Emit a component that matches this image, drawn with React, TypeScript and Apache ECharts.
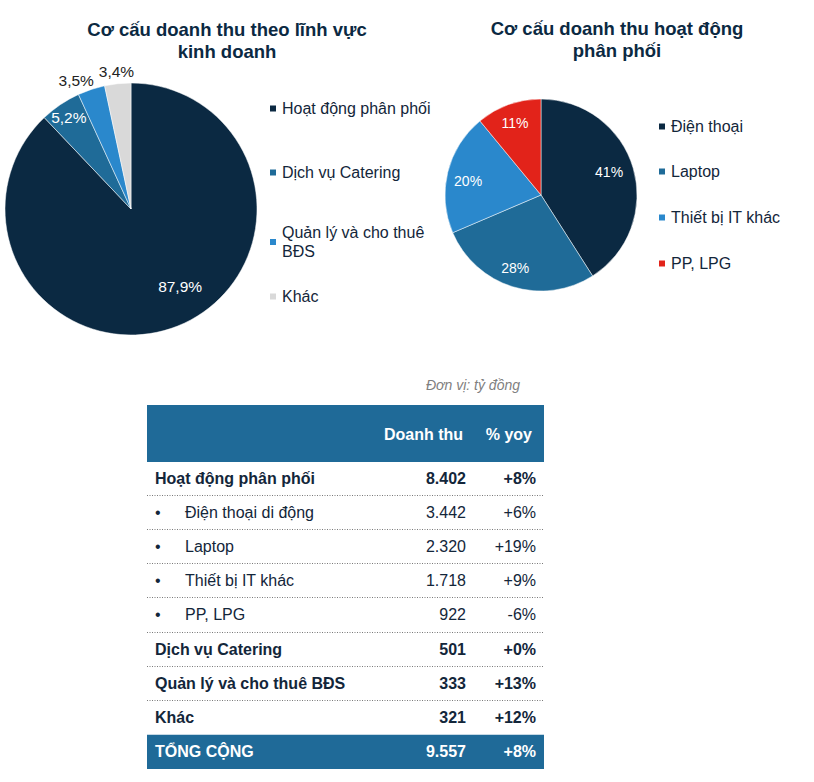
import React, { useEffect, useRef } from "react";
import * as echarts from "echarts";

// ---- Data ----
const tableLabels = [
  "Hoạt động phân phối",
  "Điện thoại di động",
  "Laptop",
  "Thiết bị IT khác",
  "PP, LPG",
  "Dịch vụ Catering",
  "Quản lý và cho thuê BĐS",
  "Khác",
];
const tableRevenue = [8402, 3442, 2320, 1718, 922, 501, 333, 321];
const tableYoy = ["+8%", "+6%", "+19%", "+9%", "-6%", "+0%", "+13%", "+12%"];
const rowIsSub = [false, true, true, true, true, false, false, false];
const totalLabel = "TỔNG CỘNG";
const totalRevenue = 9557;
const totalYoy = "+8%";
const headerCols = ["Doanh thu", "% yoy"];
const unitText = "Đơn vị: tỷ đồng";

const pie1Title = "Cơ cấu doanh thu theo lĩnh vực\nkinh doanh";
const pie1Names = ["Hoạt động phân phối", "Dịch vụ Catering", "Quản lý và cho thuê BĐS", "Khác"];
const pie1Values = [8402, 501, 333, 321];

const pie2Title = "Cơ cấu doanh thu hoạt động\nphân phối";
const pie2Names = ["Điện thoại", "Laptop", "Thiết bị IT khác", "PP, LPG"];
const pie2Values = [3442, 2320, 1718, 922];

// ---- Styles ----
const FONT = '"Liberation Sans", Arial, sans-serif';
const NAVY = "#0b2942";
const TEXT = "#13263a";
const pie1Colors = ["#0b2942", "#1f6b98", "#2a88cc", "#d9d9d9"];
const pie2Colors = ["#0b2942", "#1f6b98", "#2a88cc", "#e2231a"];
const pie1LabelColors = ["#ffffff", "#ffffff", "#222222", "#222222"];
const pie1LabelRadius = [92, 111, 139, 138];
const pie1LabelShift = [[15, -8], [0, 0], [-11, 3], [0, 0]];
const pie2LabelRadius = [73, 77, 74, 77];
const pie2LabelShift = [[-2, -3], [-3, -1], [-1, 4], [0, 0]];
const C1 = [131, 209];
const R1 = 126;
const C2 = [541, 195];
const R2 = 96;
const legend1Pos = [109, 173, 243, 297];
const legend2Pos = [127, 172, 218, 264];
const HEADER_BLUE = "#1f6a98";

const fmtNum = (n: number) => String(n).replace(/\B(?=(\d{3})+(?!\d))/g, ".");

function makeLabelLayout(center: number[], radii: number[], shifts: number[][]) {
  return (p: any) => {
    const r = p.labelRect;
    const lx = r.x + r.width / 2;
    const ly = r.y + r.height / 2;
    const vx = lx - center[0];
    const vy = ly - center[1];
    const d = Math.hypot(vx, vy) || 1;
    const k = radii[p.dataIndex] / d - 1;
    const s = shifts[p.dataIndex];
    return { dx: vx * k + s[0], dy: vy * k + s[1] };
  };
}

function buildTable() {
  const L = 147;
  const Rr = 544;
  const headTop = 405;
  const headBottom = 462;
  const rowH = 34.1;
  const colRev = 466;
  const colYoy = 536;
  const els: any[] = [];
  const txt = (text: string, x: number, y: number, align: string, font: string, fill: string) => ({
    type: "text",
    silent: true,
    style: {
      text,
      x,
      y,
      align,
      textAlign: align,
      verticalAlign: "middle",
      textVerticalAlign: "middle",
      font,
      fill,
    },
  });
  els.push(txt(unitText, 520, 385, "right", `italic 14px ${FONT}`, "#7f7f7f"));
  els.push({
    type: "rect",
    silent: true,
    shape: { x: L, y: headTop, width: Rr - L, height: headBottom - headTop },
    style: { fill: HEADER_BLUE },
  });
  els.push(txt(headerCols[0], 463, 434, "right", `bold 16px ${FONT}`, "#ffffff"));
  els.push(txt(headerCols[1], 532, 434, "right", `bold 16px ${FONT}`, "#ffffff"));
  tableLabels.forEach((lab, i) => {
    const cy = headBottom + rowH * (i + 0.5) - 0.5;
    const sub = rowIsSub[i];
    const font = sub ? `16px ${FONT}` : `bold 16px ${FONT}`;
    if (sub) {
      els.push(txt("•", 155, cy, "left", font, TEXT));
      els.push(txt(lab, 185, cy, "left", font, TEXT));
    } else {
      els.push(txt(lab, 155, cy, "left", font, TEXT));
    }
    els.push(txt(fmtNum(tableRevenue[i]), colRev, cy, "right", font, TEXT));
    els.push(txt(tableYoy[i], colYoy, cy, "right", font, TEXT));
    if (i < tableLabels.length - 1) {
      const ly = Math.round(headBottom + rowH * (i + 1)) - 0.5;
      els.push({
        type: "line",
        silent: true,
        shape: { x1: L, y1: ly, x2: Rr, y2: ly },
        style: { stroke: "#7a7a7a", lineWidth: 1, lineDash: [1, 1.5] },
      });
    }
  });
  const totTop = headBottom + rowH * tableLabels.length;
  els.push({
    type: "rect",
    silent: true,
    shape: { x: L, y: totTop, width: Rr - L, height: rowH },
    style: { fill: HEADER_BLUE },
  });
  const tcy = totTop + rowH / 2;
  els.push(txt(totalLabel, 155, tcy, "left", `bold 16px ${FONT}`, "#ffffff"));
  els.push(txt(fmtNum(totalRevenue), colRev, tcy, "right", `bold 16px ${FONT}`, "#ffffff"));
  els.push(txt(totalYoy, colYoy, tcy, "right", `bold 16px ${FONT}`, "#ffffff"));
  return els;
}

function makeLegends(names: string[], colors: string[], left: number, centers: number[], fmt?: (n: string) => string) {
  return names.map((name, i) => {
    const lines = fmt ? fmt(name).split("\n").length : 1;
    const h = 16 * lines + (lines - 1) * 4;
    return {
      show: true,
      orient: "vertical",
      left,
      top: centers[i] - h / 2 - 2,
      padding: 0,
      itemWidth: 8,
      itemHeight: 8,
      icon: "rect",
      selectedMode: false,
      data: [{ name, itemStyle: { color: colors[i] } }],
      formatter: fmt,
      textStyle: { fontFamily: FONT, fontSize: 16, color: TEXT, lineHeight: 19 },
    };
  });
}

export default function App() {
  const ref = useRef<HTMLDivElement>(null);
  useEffect(() => {
    if (!ref.current) return;
    const chart = echarts.init(ref.current, undefined, { renderer: "svg" });
    const wrap = (n: string) => (n === "Quản lý và cho thuê BĐS" ? "Quản lý và cho thuê\nBĐS" : n);
    const option: any = {
      animation: false,
      backgroundColor: "#ffffff",
      title: [
        {
          text: pie1Title,
          left: 222,
          top: 13,
          textAlign: "center",
          textStyle: { fontFamily: FONT, fontSize: 18.5, fontWeight: "bold", color: NAVY, lineHeight: 22 },
        },
        {
          text: pie2Title,
          left: 612,
          top: 12,
          textAlign: "center",
          textStyle: { fontFamily: FONT, fontSize: 18.5, fontWeight: "bold", color: NAVY, lineHeight: 22 },
        },
      ],
      legend: [
        ...makeLegends(pie1Names, pie1Colors, 268, legend1Pos, wrap),
        ...makeLegends(pie2Names, pie2Colors, 657, legend2Pos),
      ],
      series: [
        {
          type: "pie",
          center: C1,
          radius: R1,
          startAngle: 90,
          clockwise: true,
          silent: true,
          itemStyle: { borderColor: "#ffffff", borderWidth: 0.5 },
          label: {
            show: true,
            position: "inside",
            fontFamily: FONT,
            fontSize: 15.5,
            formatter: (p: any) => p.percent.toFixed(1).replace(".", ",") + "%",
          },
          labelLine: { show: false },
          labelLayout: makeLabelLayout(C1, pie1LabelRadius, pie1LabelShift),
          data: pie1Names.map((name, i) => ({
            name,
            value: pie1Values[i],
            itemStyle: { color: pie1Colors[i] },
            label: { color: pie1LabelColors[i] },
          })),
        },
        {
          type: "pie",
          center: C2,
          radius: R2,
          startAngle: 90,
          clockwise: true,
          silent: true,
          itemStyle: { borderColor: "#ffffff", borderWidth: 0.5 },
          label: {
            show: true,
            position: "inside",
            fontFamily: FONT,
            fontSize: 14,
            color: "#ffffff",
            formatter: (p: any) => Math.round(p.percent) + "%",
          },
          labelLine: { show: false },
          labelLayout: makeLabelLayout(C2, pie2LabelRadius, pie2LabelShift),
          data: pie2Names.map((name, i) => ({
            name,
            value: pie2Values[i],
            itemStyle: { color: pie2Colors[i] },
          })),
        },
      ],
      graphic: buildTable(),
    };
    chart.setOption(option);
    return () => chart.dispose();
  }, []);
  return (
    <div
      ref={ref}
      style={{ position: "fixed", left: 0, top: 0, width: 814, height: 782, background: "#fff" }}
    />
  );
}
